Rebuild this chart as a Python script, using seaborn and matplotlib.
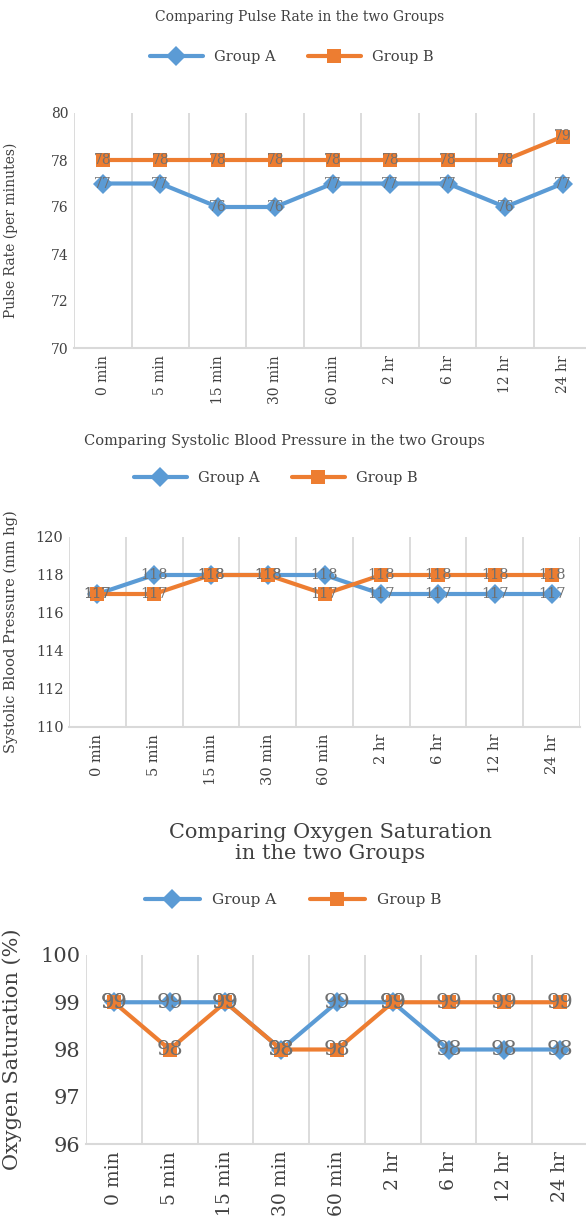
import numpy as np
import pandas as pd
import seaborn as sns
import matplotlib
matplotlib.use("Agg")
import matplotlib.pyplot as plt

# time points on the x axis
times = ["0 min", "5 min", "15 min", "30 min", "60 min", "2 hr", "6 hr", "12 hr", "24 hr"]
groups = ["Group A", "Group B"]

pulse_a = [77, 77, 76, 76, 77, 77, 77, 76, 77]
pulse_b = [78, 78, 78, 78, 78, 78, 78, 78, 79]

sbp_a = [117, 118, 118, 118, 118, 117, 117, 117, 117]
sbp_b = [117, 117, 118, 118, 117, 118, 118, 118, 118]

spo2_a = [99, 99, 99, 98, 99, 99, 98, 98, 98]
spo2_b = [99, 98, 99, 98, 98, 99, 99, 99, 99]

blue = "#5B9BD5"
orange = "#ED7D31"
txt = "#404040"

sns.set_theme(style="white")
plt.rcParams["font.family"] = ["DejaVu Serif"]

W, H = 586, 1222
fig = plt.figure(figsize=(W / 100, H / 100), dpi=100)


def long_df(a, b):
    return pd.DataFrame({
        "time": times * 2,
        "value": a + b,
        "group": ["Group A"] * len(times) + ["Group B"] * len(times),
    })


def panel(rect_px, a, b, ylim, yticks, ylabel, ylab_x, fs, xfs, title, title_xy, title_fs,
          leg_xy, leg_fs):
    left, top, right, bottom = rect_px
    ax = fig.add_axes([left / W, 1 - bottom / H, (right - left) / W, (bottom - top) / H])
    df = long_df(a, b)
    sns.lineplot(data=df, x="time", y="value", hue="group", style="group",
                 palette={"Group A": blue, "Group B": orange},
                 markers={"Group A": "D", "Group B": "s"}, dashes=False,
                 markersize=10, linewidth=3, markeredgewidth=0, sort=False,
                 legend=False, ax=ax)
    for g, vals in zip(groups, [a, b]):
        for i, v in enumerate(vals):
            ax.text(i, v, "{:.0f}".format(v), ha="center", va="center",
                    fontsize=fs, color="#707070", zorder=5)
    ax.set_xlim(-0.5, len(times) - 0.5)
    ax.set_ylim(*ylim)
    ax.set_yticks(yticks)
    ax.set_xticks(range(len(times)))
    ax.set_xticklabels(times, rotation=90, fontsize=xfs, color=txt)
    ax.tick_params(axis="y", labelsize=fs, labelcolor=txt, length=0, pad=4)
    ax.tick_params(axis="x", length=0, pad=5)
    ax.set_xticks(np.arange(-0.5, len(times), 1), minor=True)
    ax.tick_params(which="minor", length=0)
    ax.grid(False)
    ax.grid(which="minor", axis="x", color="#d9d9d9", linewidth=1.3)
    for s in ["top", "right", "left"]:
        ax.spines[s].set_visible(False)
    ax.spines["bottom"].set_color("#d9d9d9")
    ax.spines["bottom"].set_linewidth(1.5)
    ax.set_xlabel("")
    ax.set_ylabel(ylabel, fontsize=fs, color=txt)
    ax.yaxis.set_label_coords(ylab_x, 0.5)
    fig.text(title_xy[0] / W, 1 - title_xy[1] / H, title, ha="center", va="center",
             fontsize=title_fs, color=txt, linespacing=1.15)
    ax.legend(ax.lines[:2], groups, loc="center",
              bbox_to_anchor=(leg_xy[0] / W, 1 - leg_xy[1] / H),
              bbox_transform=fig.transFigure, ncol=2, frameon=False,
              fontsize=leg_fs, handlelength=3.6, columnspacing=2.2,
              handletextpad=0.8, labelcolor=txt)
    return ax


panel((74, 113, 591.5, 348), pulse_a, pulse_b, (70, 80), range(70, 81, 2),
      "Pulse Rate (per minutes)", -0.108, 10, 10,
      "Comparing Pulse Rate in the two Groups", (300, 17), 10, (292, 57), 10.5)

panel((69, 537, 580, 727), sbp_a, sbp_b, (110, 120), range(110, 121, 2),
      "Systolic Blood Pressure (mm hg)", -0.1, 10.5, 10.5,
      "Comparing Systolic Blood Pressure in the two Groups", (284, 441), 10.5,
      (276, 478), 10.5)

panel((86, 955, 588, 1144), spo2_a, spo2_b, (96, 100), range(96, 101, 1),
      "Oxygen Saturation (%)", -0.127, 15, 13.5,
      "Comparing Oxygen Saturation\nin the two Groups", (330, 843), 15,
      (293, 900), 11)

fig.savefig("out.png", dpi=100)
